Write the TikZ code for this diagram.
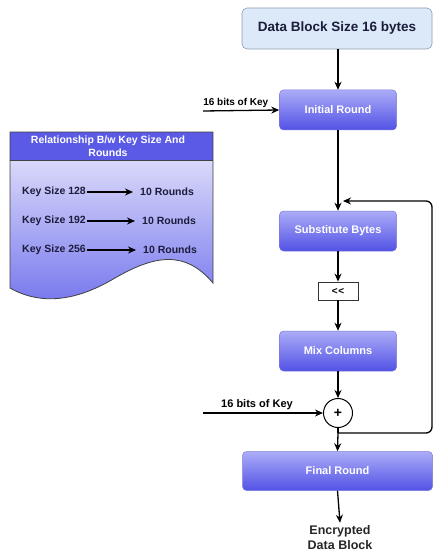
\documentclass[tikz,border=0pt]{standalone}
\usepackage{fontspec}
\setmainfont{Liberation Sans}
\usetikzlibrary{arrows.meta,shapes.geometric,calc}
\definecolor{dbfill}{HTML}{DCE9F8}
\definecolor{dbline}{HTML}{8A9BB0}
\definecolor{ptop}{HTML}{ACACF8}
\definecolor{pbot}{HTML}{5252E6}
\definecolor{pline}{HTML}{7A7AD8}
\definecolor{hdr}{HTML}{5A5AE6}
\definecolor{dtop}{HTML}{ECECFC}
\definecolor{dbot}{HTML}{7676EE}
\definecolor{navy}{HTML}{1C1C3C}
\tikzset{
  arr/.style={line width=1.3pt,-{Stealth[length=8pt,width=7pt]}},
  ln/.style={line width=1.3pt},
  proc/.style={rectangle,rounded corners=4pt,draw=pline,line width=0.5pt,
    top color=ptop,bottom color=pbot,text=white,font=\bfseries\fontsize{11}{13}\selectfont,
    minimum width=117pt,minimum height=40pt,inner sep=0pt},
  keytxt/.style={text=navy,font=\bfseries\fontsize{10.5}{12}\selectfont,inner sep=0pt},
  lbl/.style={font=\bfseries\fontsize{10}{11}\selectfont,inner sep=1pt}
}
\begin{document}
\begin{tikzpicture}[x=1pt,y=-1pt]
\useasboundingbox (0,0) rectangle (433,553);
% document shape
\shade[top color=dtop,bottom color=dbot]
  (10,132) -- (213,132) -- (213,283)
  .. controls (185,250) and (155,255) .. (115,278)
  .. controls (75,302) and (40,305) .. (10,288) -- cycle;
\fill[hdr] (10,132) rectangle (213,160);
\draw[draw=black!75,line width=0.8pt]
  (10,132) -- (213,132) -- (213,283)
  .. controls (185,250) and (155,255) .. (115,278)
  .. controls (75,302) and (40,305) .. (10,288) -- cycle;
\draw[black!75,line width=0.6pt] (10,160) -- (213,160);
\node[text=white,font=\bfseries\fontsize{10.5}{12.5}\selectfont,align=center,inner sep=0pt] (hd) at (108,146)
  {Relationship B/w Key Size And\\Rounds};
% key rows
\node[keytxt,anchor=west] (k128) at (22,192) {Key Size 128};
\node[keytxt,anchor=west] (r128) at (140,192) {10 Rounds};
\node[keytxt,anchor=west] (k192) at (22,221) {Key Size 192};
\node[keytxt,anchor=west] (r192) at (142,221) {10 Rounds};
\node[keytxt,anchor=west] (k256) at (22,250) {Key Size 256};
\node[keytxt,anchor=west] (r256) at (143,250) {10 Rounds};
\draw[arr,line width=1.2pt] ([xshift=1pt]k128.east) -- ([xshift=-7pt]r128.west);
\draw[arr,line width=1.2pt] ([xshift=1pt]k192.east) -- ([xshift=-7pt]r192.west);
\draw[arr,line width=1.2pt] ([xshift=1pt]k256.east) -- ([xshift=-7pt]r256.west);
% main chain
\node[rectangle,rounded corners=5pt,draw=dbline,line width=0.6pt,fill=dbfill,
  minimum width=190pt,minimum height=41pt,font=\bfseries\fontsize{13.5}{15}\selectfont,text=navy] (db) at (337,28.5) {Data Block Size 16 bytes};
\node[proc] (init) at (338,110) {Initial Round};
\node[proc] (sub) at (338,231) {Substitute Bytes};
\node[draw=black!80,line width=0.8pt,fill=white,minimum width=40pt,minimum height=18pt,inner sep=0pt,
  font=\bfseries\fontsize{10}{11}\selectfont] (sh) at (338,291) {{<}\kern0.5pt{<}};
\node[proc] (mix) at (338,351) {Mix Columns};
\node[circle,draw=black,line width=1pt,fill=white,minimum size=29pt,inner sep=0pt,
  font=\bfseries\fontsize{14}{15}\selectfont] (xr) at (338,413) {+};
\node[proc,minimum width=190pt,minimum height=39pt] (fin) at (337.5,471) {Final Round};
\node[font=\bfseries\fontsize{12.5}{15}\selectfont,text=black!85,align=center,inner sep=0pt] (enc) at (340,538) {Encrypted\\Data Block};
\draw[arr] (db.south -| init.north) -- (init.north);
\draw[arr] (init.south) -- (sub.north);
\draw[arr] (sub.south) -- (sh.north);
\draw[arr] (sh.south) -- (mix.north);
\draw[arr] (mix.south) -- (xr.north);
\coordinate (j) at (338,433);
\draw[ln] (xr.south) -- (j);
\draw[arr] (j) -- (fin.north);
\coordinate (c1) at (432,433);
\coordinate (c2) at (432,201);
\coordinate (c3) at (343,201);
\draw[arr,rounded corners=6pt] (j) -- (c1) -- (c2) -- (c3);
\draw[arr] (fin.south) -- ($(enc.north)+(0,-3)$);
% keys
\coordinate (kin1) at (203,111);
\draw[arr] (kin1) -- (init.west) node[lbl,pos=0.43,above=1pt] {16 bits of Key};
\coordinate (kin2) at (203,413);
\draw[arr] (kin2) -- (xr.west) node[lbl,pos=0.45,above=2pt,font=\bfseries\fontsize{11}{12}\selectfont] {16 bits of Key};
\end{tikzpicture}
\end{document}
